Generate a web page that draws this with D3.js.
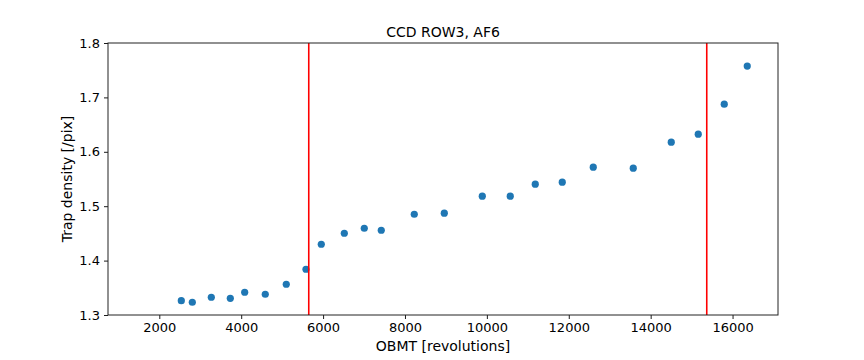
<!DOCTYPE html>
<html>
<head>
<meta charset="utf-8">
<script src="https://cdn.jsdelivr.net/npm/d3@7"></script>
<style>
  body { margin: 0; background: #fff; }
  text { font-family: "DejaVu Sans", sans-serif; fill: #000; }
</style>
</head>
<body>
<div id="viz-container"></div>
<script>
// data
let obmt = [1500, 2537, 2806, 3270, 3734, 4085, 4588, 5101, 5582, 5956, 6518, 7006, 7421,
            8227, 8960, 9888, 10571, 11182, 11841, 12598, 13575, 14503, 15162, 15797, 16359];
let density = [1.293, 1.3263, 1.3234, 1.3326, 1.3307, 1.3418, 1.3381, 1.3565, 1.3841, 1.4301,
               1.4503, 1.4595, 1.4558, 1.4852, 1.4871, 1.5184, 1.5184, 1.5404, 1.5441,
               1.5717, 1.5699, 1.6177, 1.6324, 1.6876, 1.7575];
let redLines = [5650, 15370];
let xTicks = [2000, 4000, 6000, 8000, 10000, 12000, 14000, 16000];
let yTicks = [1.3, 1.4, 1.5, 1.6, 1.7, 1.8];

let points = obmt.map(function(d, i){ return {x: d, y: density[i]}; });

let width = 864, height = 360;
let plotLeft = 108, plotRight = 778, plotTop = 43, plotBottom = 315;

let viz = d3.select("#viz-container")
    .append("svg")
    .attr("width", width)
    .attr("height", height)
;

let xScale = d3.scaleLinear().domain([747, 17110]).range([plotLeft, plotRight]);
let yScale = d3.scaleLinear().domain([1.3, 1.8]).range([plotBottom, plotTop]);

viz.append("clipPath").attr("id", "clip")
  .append("rect")
    .attr("x", plotLeft).attr("y", plotTop)
    .attr("width", plotRight - plotLeft).attr("height", plotBottom - plotTop);

let plot = viz.append("g").attr("clip-path", "url(#clip)");

// scatter points
plot.selectAll(".dot").data(points).enter()
  .append("circle")
    .attr("class", "dot")
    .attr("cx", function(d){ return xScale(d.x); })
    .attr("cy", function(d){ return yScale(d.y); })
    .attr("r", 3.6)
    .attr("fill", "#1f77b4")
;

// vertical red lines
plot.selectAll(".vline").data(redLines).enter()
  .append("line")
    .attr("x1", function(d){ return xScale(d); })
    .attr("x2", function(d){ return xScale(d); })
    .attr("y1", plotTop)
    .attr("y2", plotBottom)
    .attr("stroke", "red")
    .attr("stroke-width", 1.6)
;

// axes
let xAxis = d3.axisBottom(xScale).tickValues(xTicks).tickSize(4).tickPadding(4)
    .tickFormat(d3.format("d"));
let yAxis = d3.axisLeft(yScale).tickValues(yTicks).tickSize(4).tickPadding(4)
    .tickFormat(d3.format(".1f"));

let gx = viz.append("g").attr("transform", "translate(0," + plotBottom + ")").call(xAxis);
let gy = viz.append("g").attr("transform", "translate(" + plotLeft + ",0)").call(yAxis);

[gx, gy].forEach(function(g){
  g.select(".domain").remove();
  g.selectAll(".tick line").attr("stroke", "#000").attr("stroke-width", 0.9);
  g.selectAll(".tick text").style("font-family", "DejaVu Sans").style("font-size", "13px").attr("fill", "#000");
});

// frame
viz.append("rect")
  .attr("x", plotLeft).attr("y", plotTop)
  .attr("width", plotRight - plotLeft).attr("height", plotBottom - plotTop)
  .attr("fill", "none")
  .attr("stroke", "#222")
  .attr("stroke-width", 1)
;

// labels
viz.append("text")
  .attr("x", (plotLeft + plotRight) / 2)
  .attr("y", 37)
  .attr("text-anchor", "middle")
  .style("font-size", "14px")
  .text("CCD ROW3, AF6");

viz.append("text")
  .attr("x", (plotLeft + plotRight) / 2)
  .attr("y", 351)
  .attr("text-anchor", "middle")
  .style("font-size", "14px")
  .text("OBMT [revolutions]");

viz.append("text")
  .attr("transform", "translate(72," + (plotTop + plotBottom) / 2 + ") rotate(-90)")
  .attr("text-anchor", "middle")
  .style("font-size", "14px")
  .text("Trap density [/pix]");
</script>
</body>
</html>
